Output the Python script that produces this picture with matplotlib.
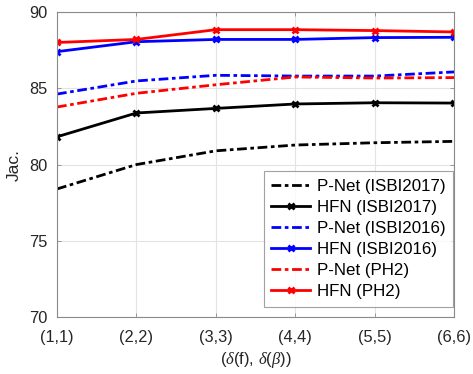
import matplotlib
matplotlib.use("Agg")
import matplotlib.pyplot as plt

plt.rcParams['font.family'] = ['Liberation Sans', 'DejaVu Sans']
plt.rcParams['mathtext.fontset'] = 'custom'
plt.rcParams['mathtext.it'] = 'Liberation Serif:italic'
plt.rcParams['mathtext.rm'] = 'Liberation Sans'

categories = ['(1,1)', '(2,2)', '(3,3)', '(4,4)', '(5,5)', '(6,6)']
pnet_isbi2017 = [78.4, 80.0, 80.9, 81.28, 81.43, 81.52]
hfn_isbi2017 = [81.82, 83.38, 83.68, 83.97, 84.05, 84.03]
pnet_isbi2016 = [84.62, 85.48, 85.85, 85.8, 85.8, 86.07]
hfn_isbi2016 = [87.4, 88.05, 88.2, 88.2, 88.32, 88.34]
pnet_ph2 = [83.77, 84.67, 85.23, 85.74, 85.67, 85.7]
hfn_ph2 = [88.0, 88.2, 88.84, 88.84, 88.78, 88.69]
yticks = [70, 75, 80, 85, 90]

fig = plt.figure(figsize=(4.73, 3.74), dpi=100)
ax = fig.add_axes([0.1205, 0.152, 0.8395, 0.816])
x = list(range(1, len(categories) + 1))
dd = (0, (3.5, 1.3, 1.3, 1.3))
series = [
    (pnet_isbi2017, 'k', dd, None, 'P-Net (ISBI2017)'),
    (hfn_isbi2017, 'k', '-', 'x', 'HFN (ISBI2017)'),
    (pnet_isbi2016, 'b', dd, None, 'P-Net (ISBI2016)'),
    (hfn_isbi2016, 'b', '-', 'x', 'HFN (ISBI2016)'),
    (pnet_ph2, 'r', dd, None, 'P-Net (PH2)'),
    (hfn_ph2, 'r', '-', 'x', 'HFN (PH2)'),
]
for vals, c, ls, m, lab in series:
    ax.plot(x, vals, color=c, linestyle=ls, marker=m, markersize=5,
            markeredgewidth=2, linewidth=2, label=lab)

ax.set_xlim(1, 6)
ax.set_ylim(70, 90)
ax.set_xticks(x)
ax.set_xticklabels(categories)
ax.set_yticks(yticks)
ax.grid(True, color='#e3e3e3', linewidth=0.8)
ax.set_axisbelow(True)
for s in ax.spines.values():
    s.set_color('#8a8a8a')
    s.set_linewidth(0.8)
ax.tick_params(labelsize=11.8, labelcolor='#262626', colors='#8a8a8a', direction='in', length=3, width=0.6, top=True, right=True)
ax.tick_params(axis='x', pad=9)
ax.tick_params(axis='y', pad=7)
ax.set_xlabel(r'($\delta$(f), $\delta$($\beta$))', fontsize=12, color='#262626', labelpad=4)
ax.set_ylabel('Jac.', fontsize=12.5, color='#262626', labelpad=5)
leg = ax.legend(loc='lower right', bbox_to_anchor=(0.958, 0.18), bbox_transform=fig.transFigure,
                fontsize=12.2, frameon=True, fancybox=False, edgecolor='#8a8a8a',
                handlelength=2.3, handletextpad=0.4, borderpad=0.45, labelspacing=0.36,
                borderaxespad=0)
leg.get_frame().set_linewidth(0.8)
fig.savefig('out.png', dpi=100)
